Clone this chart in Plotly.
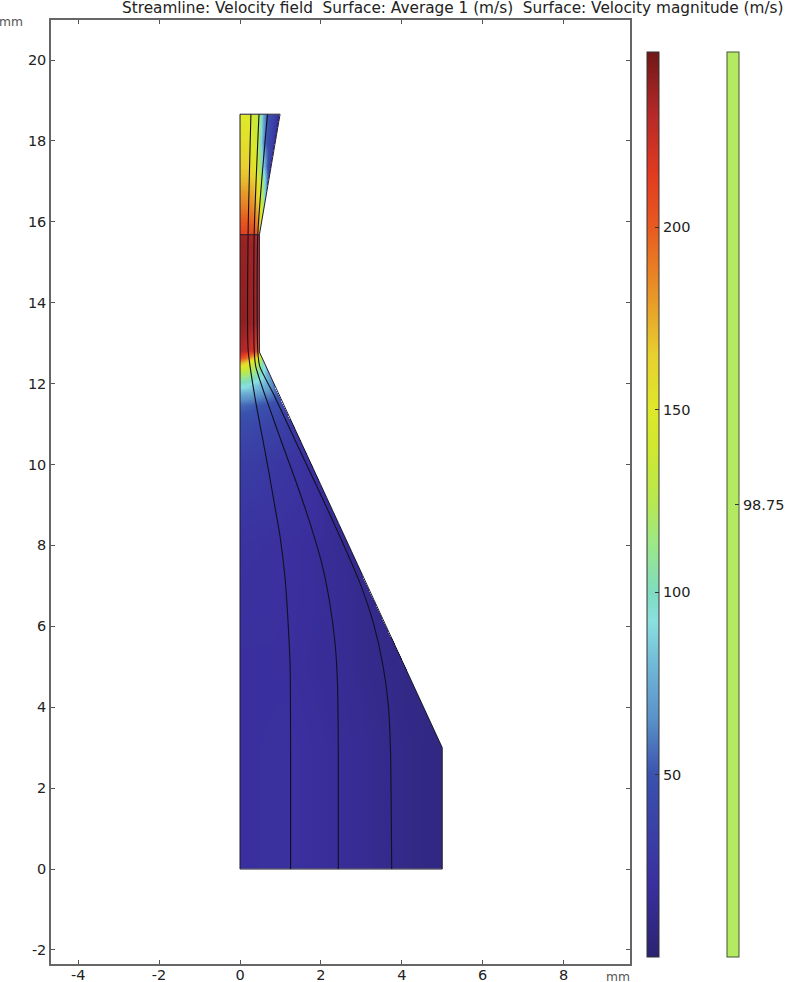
import numpy as np
import plotly.graph_objects as go

# Geometry (mm)
wall_y = [0, 3, 12.68, 12.78, 15.68, 18.66]
wall_x = [5, 5, 0.52, 0.48, 0.48, 0.99]
section_y = 15.68

# Streamlines (mm)
line1_y = [0, 2.94, 5.0, 6.07, 7.23, 8.22, 9.2, 10.11, 11.43, 12.42, 12.85, 15.68, 18.66]
line1_x = [1.25, 1.25, 1.24, 1.19, 1.11, 0.99, 0.82, 0.66, 0.41, 0.25, 0.2, 0.2, 0.27]
line2_y = [0, 2.94, 4.59, 5.58, 6.57, 7.56, 8.55, 9.53, 10.44, 11.59, 12.42, 12.85, 15.68, 18.66]
line2_x = [2.43, 2.43, 2.41, 2.35, 2.22, 2.02, 1.73, 1.40, 1.07, 0.66, 0.39, 0.35, 0.35, 0.47]
line3_y = [0, 2.94, 4.01, 5.0, 6.07, 7.06, 8.22, 9.29, 10.52, 11.76, 12.42, 12.8, 15.68, 18.66]
line3_x = [3.75, 3.72, 3.67, 3.54, 3.30, 2.97, 2.47, 1.98, 1.40, 0.82, 0.49, 0.44, 0.44, 0.68]

# Speed table (m/s): rows at speed_y, columns at fraction of the local width speed_eta
speed_eta = [0, 0.25, 0.5, 0.6, 0.7, 0.8, 0.9, 1]
speed_y = [0, 3, 5, 8, 10, 11, 11.47, 11.72, 11.96, 12.21, 12.41, 12.53, 12.63, 12.8,
           13.5, 15.4, 15.67, 15.69, 16.36, 16.96, 17.35, 17.95, 18.66]
speed_rows = [
    [20, 21, 17, 15, 13, 11, 9, 8],
    [20, 21, 17, 15, 13, 11, 9, 8],
    [20, 20, 17, 16, 14, 12, 11, 10],
    [23, 22, 20, 19, 18, 17, 15, 14],
    [32, 30, 27, 26, 25, 24, 22, 20],
    [44, 42, 38, 37, 35, 34, 31, 28],
    [56, 54, 50, 49, 47, 46, 43, 40],
    [74, 72, 66, 64, 62, 60, 55, 50],
    [97, 94, 86, 83, 80, 76, 68, 60],
    [122, 118, 108, 103, 98, 92, 80, 70],
    [152, 146, 130, 124, 117, 110, 97, 85],
    [182, 172, 150, 143, 135, 125, 112, 100],
    [210, 200, 180, 175, 168, 160, 145, 130],
    [232, 230, 225, 223, 220, 215, 205, 190],
    [240, 240, 238, 237, 236, 235, 230, 225],
    [238, 238, 236, 236, 235, 234, 230, 225],
    [236, 236, 234, 234, 233, 232, 228, 220],
    [212, 212, 210, 209, 208, 205, 195, 170],
    [190, 190, 186, 183, 175, 165, 145, 110],
    [172, 172, 167, 158, 145, 125, 90, 45],
    [165, 165, 152, 135, 105, 80, 50, 28],
    [156, 155, 140, 95, 60, 46, 36, 22],
    [150, 148, 122, 72, 50, 42, 32, 15],
]

bar_ticks = [50, 100, 150, 200]
speed_min, speed_max = 0.15, 248
average_value = 98.75
scale_values = [0.15, 20, 50, 65, 80, 92, 100, 115, 125, 140, 150, 165, 180, 200, 215, 230, 248]
scale_colors = ["#2b2370", "#3a2f9e", "#3a52ae", "#5a90c8", "#70b8d8", "#8ae0e0", "#7fdcc0",
                "#a0e880", "#b8e850", "#d0e830", "#dfe82a", "#e8d030", "#e89a28", "#e85a20",
                "#e03a20", "#b82a28", "#701818"]
colorscale = [[(v - speed_min) / (speed_max - speed_min), c] for v, c in zip(scale_values, scale_colors)]

x_ticks = [-4, -2, 0, 2, 4, 6, 8]
x_labels = ["-4", "-2", "0", "2", "4", "6", "8"]
y_ticks = [-2, 0, 2, 4, 6, 8, 10, 12, 14, 16, 18, 20]
y_labels = ["-2", "0", "2", "4", "6", "8", "10", "12", "14", "16", "18", "20"]
title = "Streamline: Velocity field  Surface: Average 1 (m/s)  Surface: Velocity magnitude (m/s)"

# Resample the table on a fine grid inside the geometry
gx = np.arange(0.0125, 5.0, 0.025)
gy = np.arange(0.0125, 18.66, 0.025)
rows = np.array(speed_rows, dtype=float)
by_y = np.array([np.interp(gy, speed_y, rows[:, j]) for j in range(len(speed_eta))]).T
w = np.interp(gy, wall_y, wall_x)
z = np.full((gy.size, gx.size), np.nan)
for i in range(gy.size):
    eta = gx / w[i]
    inside = eta <= 1
    z[i, inside] = np.interp(eta[inside], speed_eta, by_y[i])

W, H = 787, 982
L, R, T, B = 51, 630, 20, 964
TXT = "#222222"
FONT = "DejaVu Sans"
PW, PH = R - L, B - T


def bar(x_px, outline):
    return dict(xref="paper", yref="paper", x=(x_px - L) / PW, xanchor="left", xpad=0, ypad=0,
                y=(B - 52) / PH, yanchor="top", lenmode="pixels", len=905, thicknessmode="pixels",
                thickness=12, outlinecolor=outline, outlinewidth=1, borderwidth=0,
                tickmode="array", ticks="inside", ticklen=4, tickcolor="#333333",
                tickfont=dict(family=FONT, size=14.5, color=TXT))


fig = go.Figure()
fig.add_trace(go.Heatmap(
    x=gx, y=gy, z=z, zmin=speed_min, zmax=speed_max, colorscale=colorscale, hoverinfo="skip",
    colorbar=dict(bar(647, "#333333"), tickvals=bar_ticks),
))
fig.add_trace(go.Heatmap(
    x=[-100, -99], y=[-100, -99], z=[[average_value, average_value], [average_value, average_value]],
    zmin=average_value - 0.01, zmax=average_value + 0.01,
    colorscale=[[0, "#b4e962"], [1, "#b4e962"]], hoverinfo="skip",
    colorbar=dict(bar(727, "#445533"), tickvals=[average_value], ticktext=[str(average_value)]),
))
for lx, ly in ((line1_x, line1_y), (line2_x, line2_y), (line3_x, line3_y)):
    fig.add_trace(go.Scatter(x=lx, y=ly, mode="lines", line=dict(color="#111122", width=1.1, shape="spline", smoothing=0.6),
                             hoverinfo="skip", showlegend=False))
outline_x = [0] + wall_x + [0, 0]
outline_y = [0] + wall_y + [wall_y[-1], 0]
fig.add_trace(go.Scatter(x=outline_x, y=outline_y, mode="lines", line=dict(color="#1a1a2a", width=1),
                         hoverinfo="skip", showlegend=False))
fig.add_trace(go.Scatter(x=[0, wall_x[4]], y=[section_y, section_y], mode="lines",
                         line=dict(color="#1a1a2a", width=1), hoverinfo="skip", showlegend=False))

px = 40.45
axis = dict(showgrid=False, zeroline=False, showline=True, linecolor="#666666", linewidth=1.5,
            mirror="allticks", ticks="inside", ticklen=4, tickcolor="#555555", tickwidth=1,
            tickfont=dict(family=FONT, size=14.5, color=TXT))
fig.update_xaxes(**axis, range=[(L - 240) / px, (R - 240) / px], tickvals=x_ticks, ticktext=x_labels,
                 ticklabelstandoff=-3)
fig.update_yaxes(**axis, range=[(869 - B) / px, (869 - T) / px], tickvals=y_ticks, ticktext=y_labels)
fig.update_layout(
    width=W, height=H, autosize=False, plot_bgcolor="white", paper_bgcolor="white",
    margin=dict(l=L, r=W - R, t=T, b=H - B, autoexpand=False), showlegend=False,
    annotations=[
        dict(text=title, xref="paper", yref="paper", x=(786 - L) / PW, y=1 + 12 / PH,
             xanchor="right", yanchor="middle", showarrow=False,
             font=dict(family=FONT, size=15.3, color=TXT)),
        dict(text="mm", xref="paper", yref="paper", x=(25 - L) / PW, y=1 - 2 / PH,
             xanchor="right", yanchor="middle", showarrow=False,
             font=dict(family=FONT, size=12.3, color="#555555")),
        dict(text="mm", xref="paper", yref="paper", x=(632 - L) / PW, y=-13 / PH,
             xanchor="right", yanchor="middle", showarrow=False,
             font=dict(family=FONT, size=12.3, color="#555555")),
    ],
)
fig.write_html("out.html", config={"displayModeBar": False}, post_script="document.body.style.margin='0';")
